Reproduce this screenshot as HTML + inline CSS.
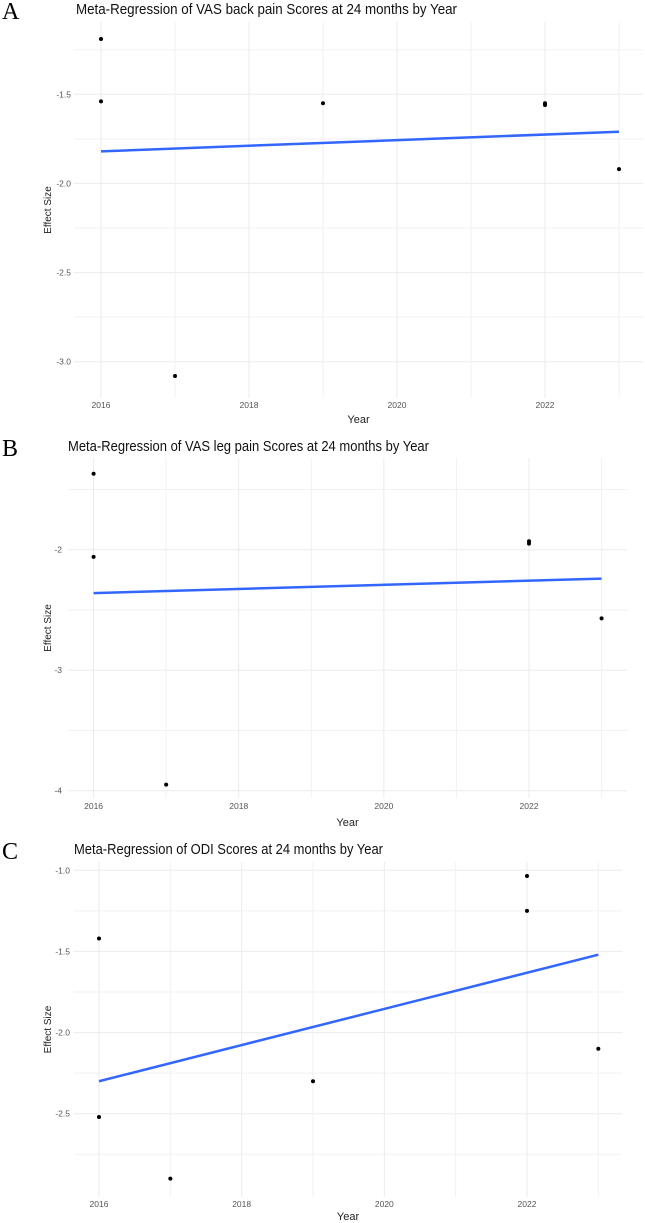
<!DOCTYPE html>
<html><head><meta charset="utf-8"><style>
body{margin:0;background:#fff;width:645px;height:1223px;overflow:hidden}
svg{display:block}
text{font-family:"Liberation Sans",sans-serif}
</style></head><body>
<svg id="fig" width="645" height="1223"></svg>
<script>
const years = [2016,2016,2017,2019,2022,2022,2023];
const vasBack = [-1.19,-1.54,-3.08,-1.55,-1.55,-1.56,-1.92];
const vasBackFit = [-1.82,-1.71];
const legYears = [2016,2016,2017,2022,2022,2023];
const vasLeg = [-1.37,-2.06,-3.95,-1.93,-1.95,-2.57];
const vasLegFit = [-2.36,-2.24];
const odiYears = [2016,2016,2017,2019,2022,2022,2023];
const odi = [-1.42,-2.52,-2.90,-2.30,-1.035,-1.25,-2.10];
const odiFit = [-2.30,-1.52];
const fitYears = [2016,2023];
const xTicks = [2016,2018,2020,2022];
const yTicksA = [-1.5,-2.0,-2.5,-3.0];
const yTicksB = [-2,-3,-4];
const yTicksC = [-1.0,-1.5,-2.0,-2.5];

const NS="http://www.w3.org/2000/svg";
const svg=document.getElementById('fig');
function mk(tag,attrs,parent){const e=document.createElementNS(NS,tag);for(const k in attrs)e.setAttribute(k,attrs[k]);(parent||svg).appendChild(e);return e;}

function panel(cfg){
  const g=mk('g',{});
  
  
  const xs=v=>cfg.x0+(v-2016)*(cfg.x1-cfg.x0)/6;
  const ys=v=>cfg.yA+(v-cfg.vA)*(cfg.yB-cfg.yA)/(cfg.vB-cfg.vA);
  const step=cfg.ticks[0]-cfg.ticks[1];
  for(let v=cfg.ticks[0]+step/2; v>cfg.ticks[cfg.ticks.length-1]-step; v-=step){
    const y=ys(v); if(y<cfg.top||y>cfg.bot) continue;
    const l=mk('line',{x1:cfg.left,x2:cfg.right,y1:y,y2:y,stroke:'#f2f2f2','stroke-width':1},g);
    
    
  }
  cfg.ticks.forEach(v=>{
    const y=ys(v);
    const l=mk('line',{x1:cfg.left,x2:cfg.right,y1:y,y2:y,stroke:'#ebebeb','stroke-width':1},g);
    
    
    const t=mk('text',{x:cfg.ylx,y:y+3,'text-anchor':'end','font-size':8.5,fill:'#555'},g);
    t.textContent=cfg.fmt(v);
    
    
  });
  for(let yr=2016; yr<=2023; yr++){
    const x=xs(yr);
    const l=mk('line',{x1:x,x2:x,y1:cfg.top,y2:cfg.bot,stroke:yr%2?'#f2f2f2':'#ebebeb','stroke-width':1},g);
    
    
  }
  xTicks.forEach(v=>{
    const t=mk('text',{x:xs(v),y:cfg.xly,'text-anchor':'middle','font-size':8.5,fill:'#555'},g);
    t.textContent=v;
    
    
  });
  const fl=mk('line',{x1:xs(fitYears[0]),y1:ys(cfg.fit[0]),x2:xs(fitYears[1]),y2:ys(cfg.fit[1]),stroke:'#3366ff','stroke-width':2.5},g);
  
  
  cfg.yrs.forEach((yr,i)=>{
    const c=mk('circle',{cx:xs(yr),cy:ys(cfg.vals[i]),r:2,fill:'#000'},g);
    
    
  });
  const tt=mk('text',{x:cfg.titleX,y:cfg.titleY,'font-size':14.5,fill:'#111',textLength:cfg.titleW,lengthAdjust:'spacingAndGlyphs'},g);
  tt.textContent=cfg.title;
  
  
  const lt=mk('text',{x:2,y:cfg.titleY+5,'font-size':24,fill:'#000'},g);
  lt.setAttribute('style','font-family:"Liberation Serif",serif');
  lt.textContent=cfg.id;
  
  
  const xt=mk('text',{x:(cfg.left+cfg.right)/2,y:cfg.xty,'text-anchor':'middle','font-size':11,fill:'#222'},g);
  xt.textContent='Year';
  
  
  const cy=(cfg.top+cfg.bot)/2;
  const yt=mk('text',{x:51,y:cy,'text-anchor':'middle','font-size':10,fill:'#222',transform:`rotate(-90 51 ${cy})`},g);
  yt.textContent='Effect Size';
  
  
}

panel({id:'A',title:'Meta-Regression of VAS back pain Scores at 24 months by Year',titleX:76,titleY:14,titleW:381,
  x0:101,x1:545,left:74,right:643,top:22,bot:398,vA:-1.5,yA:94.3,vB:-3.0,yB:361.7,
  ticks:yTicksA,fmt:v=>v.toFixed(1),ylx:71,xly:408,xty:423,yrs:years,vals:vasBack,fit:vasBackFit});
panel({id:'B',title:'Meta-Regression of VAS leg pain Scores at 24 months by Year',titleX:68,titleY:451,titleW:361,
  x0:93.6,x1:529,left:68,right:627,top:458,bot:798,vA:-2,yA:549.7,vB:-4,yB:790.7,
  ticks:yTicksB,fmt:v=>String(v),ylx:62,xly:809,xty:826,yrs:legYears,vals:vasLeg,fit:vasLegFit});
panel({id:'C',title:'Meta-Regression of ODI Scores at 24 months by Year',titleX:74,titleY:854,titleW:309,
  x0:99,x1:527,left:74,right:622,top:862,bot:1197,vA:-1.0,yA:870.3,vB:-2.5,yB:1113.7,
  ticks:yTicksC,fmt:v=>v.toFixed(1),ylx:70,xly:1207,xty:1220,yrs:odiYears,vals:odi,fit:odiFit});
</script>
</body></html>
